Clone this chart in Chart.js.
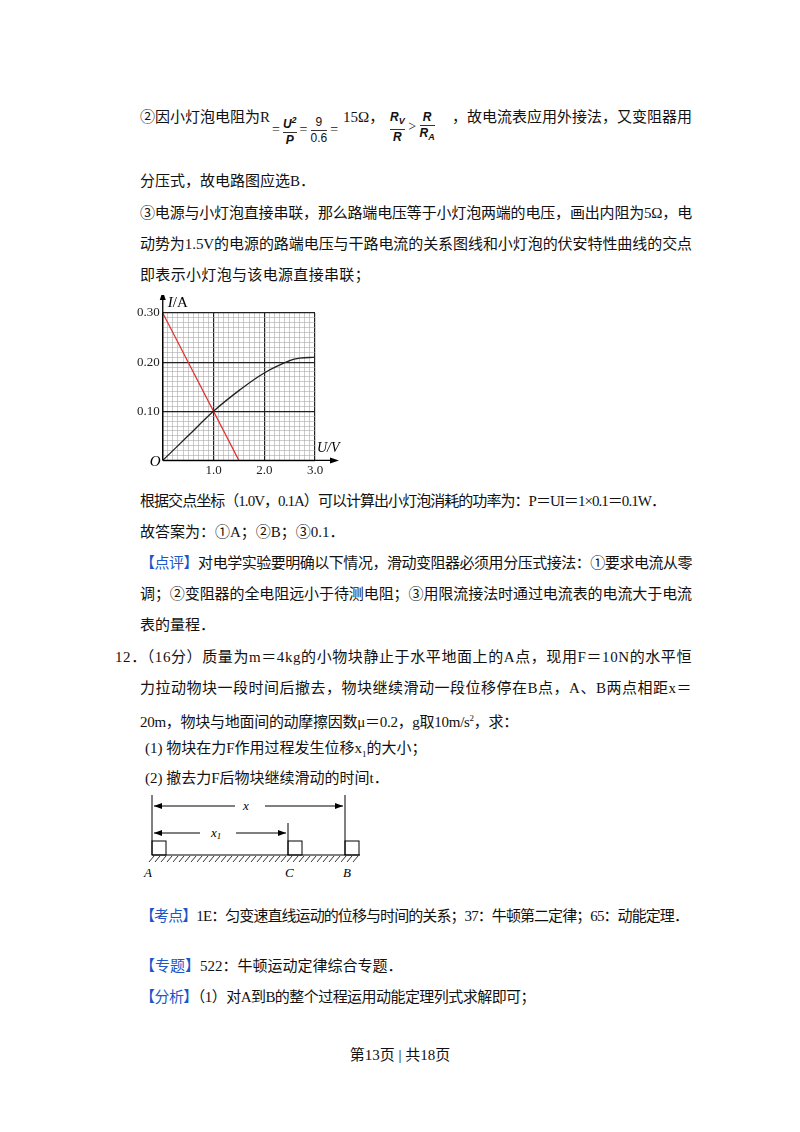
<!DOCTYPE html>
<html><head><meta charset="utf-8">
<script src="https://cdn.jsdelivr.net/npm/chart.js@4/dist/chart.umd.min.js"></script>
<style>
body{margin:0;width:800px;height:1132px;background:#fff;position:relative;font-family:"Liberation Serif","Noto Sans CJK SC",serif;color:#111;font-size:15px}
.l{position:absolute;left:140px;white-space:nowrap;line-height:20px}
.b{color:#1a56c8}
.fr{display:inline-block;vertical-align:middle;text-align:center;font-size:12px;line-height:15px;font-style:italic;font-family:"Liberation Sans",sans-serif;font-weight:bold}
.fr span{display:block}
.fr .n{border-bottom:1px solid #333}
</style></head><body>
<div class="l" style="top:107px">②因小灯泡电阻为R</div>
<div class="l" style="top:113px;left:272px;font-size:14px">=<span class="fr" style="margin:0 3px"><span class="n">U<sup style="font-size:9px">2</sup></span><span>P</span></span>=<span class="fr" style="margin:0 3px;font-style:normal;font-weight:normal"><span class="n">9</span><span>0.6</span></span>=</div>
<div class="l" style="top:107px;left:343px">15Ω，</div>
<div class="l" style="top:110px;left:390px;font-size:14px"><span class="fr"><span class="n">R<sub style="font-size:9px">V</sub></span><span>R</span></span> &gt; <span class="fr"><span class="n">R</span><span>R<sub style="font-size:9px">A</sub></span></span></div>
<div class="l f" data-w="240" style="top:107px;left:452px">，故电流表应用外接法，又变阻器用</div>
<div class="l" style="top:171px">分压式，故电路图应选B．</div>
<div class="l f" data-w="552" style="top:203px">③电源与小灯泡直接串联，那么路端电压等于小灯泡两端的电压，画出内阻为5Ω，电</div>
<div class="l f" data-w="552" style="top:234px">动势为1.5V的电源的路端电压与干路电流的关系图线和小灯泡的伏安特性曲线的交点</div>
<div class="l f" data-w="230" style="top:265px">即表示小灯泡与该电源直接串联；</div>
<div style="position:absolute;left:130px;top:295px;width:220px;height:185px"><canvas id="c"></canvas></div>
<div class="l f" data-w="525" style="top:491px">根据交点坐标（1.0V，0.1A）可以计算出小灯泡消耗的功率为：P＝UI＝1×0.1＝0.1W．</div>
<div class="l" style="top:522px">故答案为：①A；②B；③0.1．</div>
<div class="l f" data-w="552" style="top:553px"><span class="b">【点评】</span>对电学实验要明确以下情况，滑动变阻器必须用分压式接法：①要求电流从零</div>
<div class="l f" data-w="552" style="top:584px">调；②变阻器的全电阻远小于待测电阻；③用限流接法时通过电流表的电流大于电流</div>
<div class="l" style="top:615px">表的量程．</div>
<div class="l f" data-w="577" style="top:647px;left:115px">12．（16分）质量为m＝4kg的小物块静止于水平地面上的A点，现用F＝10N的水平恒</div>
<div class="l f" data-w="552" style="top:678px">力拉动物块一段时间后撤去，物块继续滑动一段位移停在B点，A、B两点相距x＝</div>
<div class="l f" data-w="378" style="top:708px">20m，物块与地面间的动摩擦因数μ＝0.2，g取10m/s<sup style="font-size:9px">2</sup>，求：</div>
<div class="l" style="top:738px;left:145px">(1) 物块在力F作用过程发生位移x<sub style="font-size:9px">1</sub>的大小；</div>
<div class="l" style="top:768px;left:145px">(2) 撤去力F后物块继续滑动的时间t．</div>
<svg style="position:absolute;left:140px;top:795px" width="240" height="90">
<defs><marker id="a" markerWidth="8" markerHeight="6" refX="8" refY="3" orient="auto"><path d="M0,0L8,3L0,6z" fill="#000"/></marker></defs>
<g stroke="#000" fill="none" stroke-width="1">
<line x1="12" y1="0" x2="12" y2="60"/><line x1="205" y1="0" x2="205" y2="60"/><line x1="148" y1="28" x2="148" y2="60"/>
<line x1="95" y1="11" x2="14" y2="11" marker-end="url(#a)"/><line x1="125" y1="11" x2="203" y2="11" marker-end="url(#a)"/>
<line x1="60" y1="38" x2="14" y2="38" marker-end="url(#a)"/><line x1="96" y1="38" x2="146" y2="38" marker-end="url(#a)"/>
<rect x="12" y="46" width="14" height="14"/><rect x="148" y="46" width="14" height="14"/><rect x="205" y="46" width="14" height="14"/>
<line x1="12" y1="60" x2="220" y2="60"/>
</g>
<g stroke="#000" stroke-width="0.8" id="hatch"></g>
<g font-family="Liberation Serif" font-style="italic" font-size="13">
<text x="103" y="15">x</text><text x="71" y="42">x<tspan font-size="9" dy="2">1</tspan></text>
<text x="4" y="82">A</text><text x="145" y="82">C</text><text x="203" y="82">B</text></g>
</svg>
<div class="l f" data-w="548" style="top:906px"><span class="b">【考点】</span>1E：匀变速直线运动的位移与时间的关系；37：牛顿第二定律；65：动能定理．</div>
<div class="l" style="top:956px"><span class="b">【专题】</span>522：牛顿运动定律综合专题．</div>
<div class="l f" data-w="395" style="top:987px"><span class="b">【分析】</span>（1）对A到B的整个过程运用动能定理列式求解即可；</div>
<div class="l" style="top:1045px;left:0;width:800px;text-align:center">第13页 | 共18页</div>
<script>
document.querySelectorAll('.f').forEach(el=>{const w=+el.dataset.w;const n=el.textContent.length;
 const cur=el.getBoundingClientRect().width;el.style.letterSpacing=((w-cur)/n)+'px';});
const hg=document.getElementById('hatch');
for(let x=14;x<=220;x+=6){const l=document.createElementNS('http://www.w3.org/2000/svg','line');l.setAttribute('x1',x);l.setAttribute('y1',61);l.setAttribute('x2',x-5);l.setAttribute('y2',67);hg.appendChild(l);}

const curveU=[0,0.5,1.0,1.5,2.0,2.5,2.7,3.0];
const curveI=[0,0.05,0.10,0.142,0.178,0.203,0.208,0.21];
const lineU=[0,1.5];
const lineI=[0.30,0];
const xTicks=['1.0','2.0','3.0'];
const yTicks=['0.10','0.20','0.30'];

const arrows={id:'arrows',afterDraw(ch){const c=ch.ctx,x=ch.scales.x,y=ch.scales.y;
 const x0=x.getPixelForValue(0),y0=y.getPixelForValue(0),xe=x.getPixelForValue(3),yt=y.getPixelForValue(0.3);
 c.save();c.strokeStyle='#000';c.fillStyle='#000';c.lineWidth=1.3;
 c.beginPath();c.moveTo(x0,y0);c.lineTo(xe+20,y0);c.moveTo(x0,y0);c.lineTo(x0,yt-18);c.stroke();
 c.beginPath();c.moveTo(xe+24,y0);c.lineTo(xe+15,y0-3);c.lineTo(xe+15,y0+3);c.fill();
 c.beginPath();c.moveTo(x0,yt-22);c.lineTo(x0-3,yt-13);c.lineTo(x0+3,yt-13);c.fill();
 c.font='italic 15px "Liberation Serif"';c.fillText('O',x0-13,y0+6);
 c.fillText('I',x0+5,yt-6);c.font='15px "Liberation Serif"';c.fillText('/A',x0+10,yt-6);
 c.font='italic 14px "Liberation Serif"';c.fillText('U/V',xe+2,y0-8);
 c.restore();}};
const isMajor=(v,s)=>Math.abs(v/s-Math.round(v/s))<1e-6;
new Chart(document.getElementById('c'),{type:'scatter',
 data:{datasets:[
  {data:curveU.map((u,i)=>({x:u,y:curveI[i]})),showLine:true,tension:0.4,borderColor:'#222',borderWidth:1.3,pointRadius:0},
  {data:lineU.map((u,i)=>({x:u,y:lineI[i]})),showLine:true,borderColor:'#e03030',borderWidth:1.2,pointRadius:0}]},
 options:{responsive:true,maintainAspectRatio:false,animation:false,
  layout:{padding:{left:4,right:35,top:18,bottom:0}},
  plugins:{legend:{display:false},tooltip:{enabled:false}},
  scales:{
   x:{type:'linear',min:0,max:3,border:{display:false},
    ticks:{stepSize:0.1,autoSkip:false,maxRotation:0,color:'#222',font:{family:'Liberation Serif',size:13},padding:2,
     callback:(v)=>isMajor(v,1)&&v>0?xTicks[Math.round(v)-1]:''},
    grid:{drawTicks:false,color:(c)=>isMajor(c.tick.value,1)?'#222':'#aaa',lineWidth:(c)=>isMajor(c.tick.value,1)?1.2:0.6}},
   y:{type:'linear',min:0,max:0.3,border:{display:false},
    ticks:{stepSize:0.01,autoSkip:false,color:'#222',font:{family:'Liberation Serif',size:13},padding:3,
     callback:(v)=>isMajor(v,0.1)&&v>0?yTicks[Math.round(v*10)-1]:''},
    grid:{drawTicks:false,color:(c)=>isMajor(c.tick.value,0.1)?'#222':'#aaa',lineWidth:(c)=>isMajor(c.tick.value,0.1)?1.2:0.6}}}},
 plugins:[arrows]});
</script>
</body></html>
